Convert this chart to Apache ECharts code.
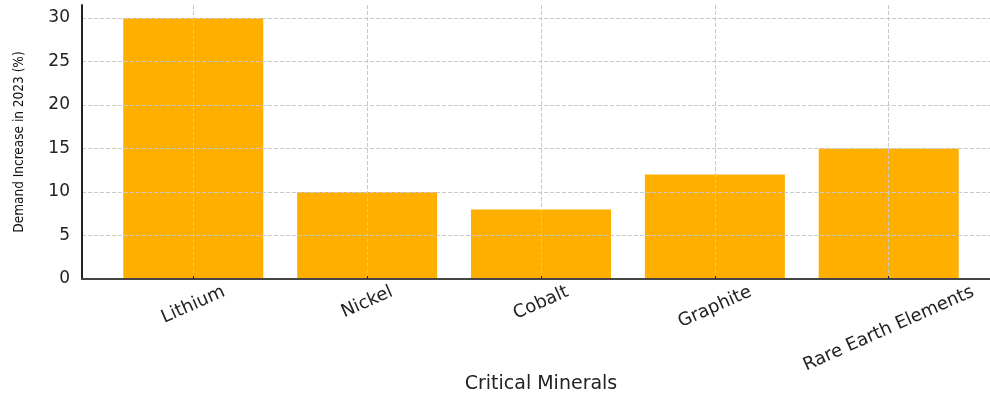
<!DOCTYPE html>
<html>
<head>
<meta charset="utf-8">
<script src="https://cdn.jsdelivr.net/npm/echarts@6/dist/echarts.min.js"></script>
<style>
  html, body { margin: 0; padding: 0; background: #fff; }
  #chart { width: 990px; height: 394px; }
</style>
</head>
<body>
<div id="chart"></div>
<script>
const minerals = ['Lithium', 'Nickel', 'Cobalt', 'Graphite', 'Rare Earth Elements']
const demandIncrease = [30, 10, 8, 12, 15]
const yTicks = [0, 5, 10, 15, 20, 25, 30]

const labelFont = 18
const labelAngle = 24

// matplotlib-like rotated labels: bounding box centred under the tick, top aligned
const ctx = document.createElement('canvas').getContext('2d')
ctx.font = labelFont + 'px "DejaVu Sans"'
const rad = labelAngle * Math.PI / 180
const rich = {}
minerals.forEach((m, i) => {
  const len = ctx.measureText(m).width
  const boxH = len * Math.sin(rad) + labelFont * Math.cos(rad)
  rich['l' + i] = {
    fontFamily: 'DejaVu Sans',
    fontSize: labelFont,
    color: '#222',
    padding: [boxH * Math.cos(rad), boxH * Math.sin(rad), 0, 0],
  }
})

const chart = echarts.init(document.getElementById('chart'))

chart.setOption({
  animation: false,
  grid: {
    left: 82,
    right: -10,
    top: 5,
    bottom: 115,
    outerBoundsMode: 'none',
  },
  xAxis: {
    type: 'value',
    min: -0.64,
    max: 4.64,
    minInterval: 1,
    maxInterval: 1,
    name: 'Critical Minerals',
    nameLocation: 'middle',
    nameGap: 96,
    nameMoveOverlap: false,
    nameTextStyle: { fontFamily: 'DejaVu Sans', fontSize: 19, color: '#222' },
    axisLine: { onZero: false, lineStyle: { color: '#444', width: 2 } },
    axisTick: { inside: true, length: 3, lineStyle: { color: '#222' } },
    axisLabel: {
      rotate: labelAngle,
      margin: 4,
      align: 'center',
      verticalAlign: 'middle',
      showMinLabel: false,
      showMaxLabel: false,
      hideOverlap: false,
      formatter: (v) => (minerals[v] ? '{l' + v + '|' + minerals[v] + '}' : ''),
      rich: rich,
    },
    splitLine: {
      show: true,
      showMinLine: false,
      lineStyle: { color: '#c8c8c8', type: 'dashed', width: 1 },
    },
  },
  yAxis: {
    type: 'value',
    min: 0,
    max: 31.5,
    interval: 5,
    name: 'Demand Increase in 2023 (%)',
    nameLocation: 'middle',
    nameGap: 56,
    nameMoveOverlap: false,
    nameTextStyle: {
      fontFamily: 'DejaVu Sans Condensed',
      fontSize: 13.5,
      color: '#111',
    },
    axisLine: { show: true, onZero: false, lineStyle: { color: '#222', width: 2 } },
    axisTick: { show: false },
    axisLabel: {
      margin: 12,
      showMaxLabel: false,
      fontFamily: 'DejaVu Sans',
      fontSize: 17,
      color: '#222',
      formatter: (v) => (yTicks.includes(v) ? String(v) : ''),
    },
    splitLine: {
      show: true,
      showMaxLine: false,
      lineStyle: { color: '#c8c8c8', type: 'dashed', width: 1 },
    },
  },
  series: [
    {
      type: 'bar',
      z: -1,
      barWidth: 140,
      itemStyle: { color: '#FFAF00' },
      data: demandIncrease.map((v, i) => [i, v]),
    },
  ],
})
</script>
</body>
</html>
